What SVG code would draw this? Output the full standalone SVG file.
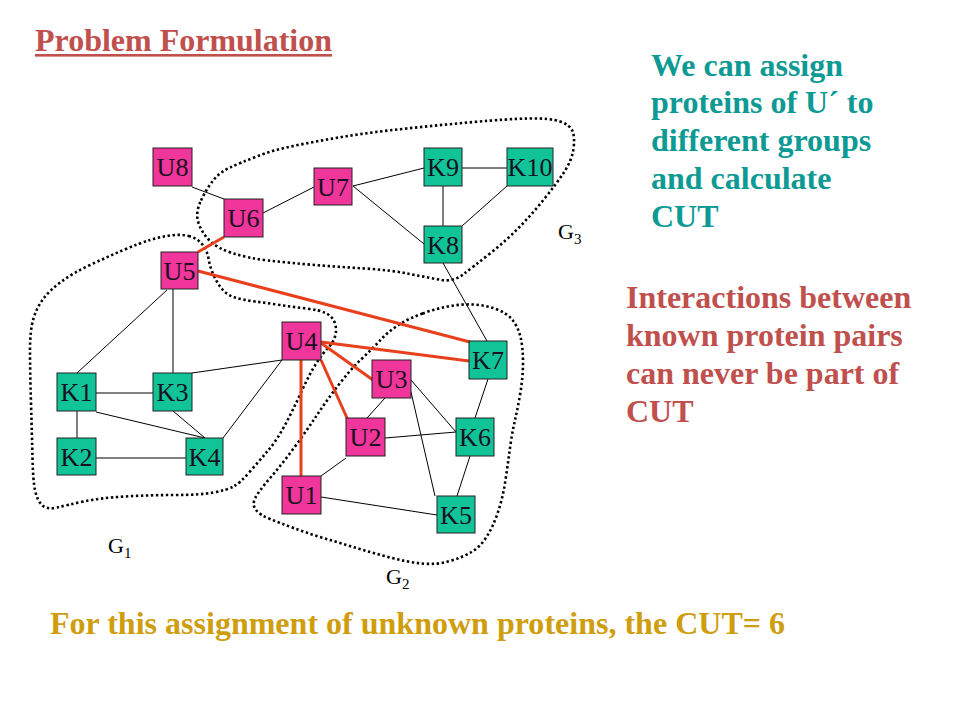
<svg xmlns="http://www.w3.org/2000/svg" width="960" height="720" viewBox="0 0 960 720">
<style>
.u{fill:#f0359b;stroke:#222;stroke-width:1}
.k{fill:#10c498;stroke:#222;stroke-width:1}
.lbl{font-family:"Liberation Serif","Times New Roman",serif;font-size:26px;fill:#1a1020;text-anchor:middle}
.e{stroke:#000;stroke-width:1;fill:none}
.r{stroke:#e8401c;stroke-width:3;fill:none}
.grp{fill:none;stroke:#000;stroke-width:2.6;stroke-dasharray:2.4 2.6}
.g{font-family:"Liberation Serif","Times New Roman",serif;font-size:22px;fill:#000}
.gs{font-size:15px}
.t{font-family:"Liberation Serif","Times New Roman",serif;font-weight:bold;font-size:32px}
</style>
<rect width="960" height="720" fill="#fff"/>

<g id="groups">
<path class="grp" d="M 201,200.5 Q 207,188 213.5,180 Q 220,172 230,167.5 Q 240,163 256.5,156.5 Q 273,150 298,145 Q 323,140 348,136 Q 373,132 406.5,128.5 Q 440,125 473.5,122 Q 507,119 528.5,118.5 Q 550,118 560,121.5 Q 570,125 572.5,131 Q 575,137 573.5,148.5 Q 572,160 564.5,171.5 Q 557,183 545,198 Q 533,213 520,226.5 Q 507,240 490,253.5 Q 473,267 463,274.5 Q 453,282 441.5,280 Q 430,278 410,274 Q 390,270 365,268.5 Q 340,267 315,265 Q 290,263 268.5,260.5 Q 247,258 232,253 Q 217,248 209.5,240.5 Q 202,233 198.5,223 Q 195,213 201,200.5 Z"/>
<path class="grp" d="M 188.5,236 Q 197,238 202,244 Q 207,250 208.5,258.5 Q 210,267 213.5,275 Q 217,283 222,289 Q 227,295 235,297.5 Q 243,300 255,301.5 Q 267,303 280,305 Q 293,307 306.5,308.5 Q 320,310 326.5,313.5 Q 333,317 335,323.5 Q 337,330 335,336.5 Q 333,343 328,348 Q 323,353 316.5,363 Q 310,373 301.5,391.5 Q 293,410 285,425 Q 277,440 268.5,450 Q 260,460 250,471.5 Q 240,483 233.5,486.5 Q 227,490 213.5,492.5 Q 200,495 175,495 Q 150,495 125,496.5 Q 100,498 83.5,501.5 Q 67,505 57,507.5 Q 47,510 42,505 Q 37,500 35,490 Q 33,480 32.5,458.5 Q 32,437 31,403.5 Q 30,370 30,350 Q 30,330 33.5,318.5 Q 37,307 43.5,298.5 Q 50,290 61.5,281.5 Q 73,273 90,265 Q 107,257 123.5,250 Q 140,243 150,240 Q 160,237 170,235.5 Q 180,234 188.5,236 Z"/>
<path class="grp" d="M 422.5,313.5 Q 435,309 447.5,306.5 Q 460,304 472.5,304.5 Q 485,305 496,309 Q 507,313 512.5,320 Q 518,327 520.5,337 Q 523,347 523,362 Q 523,377 520.5,392 Q 518,407 515,420 Q 512,433 510,448 Q 508,463 505.5,480 Q 503,497 498,512 Q 493,527 486.5,537 Q 480,547 471.5,552 Q 463,557 450,561 Q 437,565 422,563.5 Q 407,562 390,557.5 Q 373,553 356.5,548 Q 340,543 323.5,538 Q 307,533 293.5,528 Q 280,523 270,519 Q 260,515 256,510 Q 252,505 255,498.5 Q 258,492 270.5,477.5 Q 283,463 295,446.5 Q 307,430 317,415 Q 327,400 338.5,385 Q 350,370 361.5,359 Q 373,348 381.5,339 Q 390,330 400,324 Q 410,318 422.5,313.5 Z"/>
<text class="g" x="108" y="553">G<tspan class="gs" dy="5">1</tspan></text>
<text class="g" x="386" y="584">G<tspan class="gs" dy="5">2</tspan></text>
<text class="g" x="558" y="239">G<tspan class="gs" dy="5">3</tspan></text>
</g>

<g id="connectors">
<line class="e" x1="192" y1="187" x2="224" y2="199"/>
<line class="e" x1="263" y1="213" x2="314" y2="187"/>
<line class="e" x1="353" y1="186" x2="424" y2="168"/>
<line class="e" x1="353" y1="186" x2="424" y2="244"/>
<line class="e" x1="462" y1="168" x2="507" y2="168"/>
<line class="e" x1="443" y1="186" x2="443" y2="226"/>
<line class="e" x1="507" y1="186" x2="462" y2="226"/>
<line class="e" x1="443" y1="263" x2="487" y2="341"/>
<line class="e" x1="167" y1="290" x2="77" y2="373"/>
<line class="e" x1="173" y1="289" x2="173" y2="373"/>
<line class="e" x1="96" y1="393" x2="153" y2="393"/>
<line class="e" x1="77" y1="411" x2="77" y2="438"/>
<line class="e" x1="96" y1="412" x2="205" y2="438"/>
<line class="e" x1="173" y1="411" x2="205" y2="438"/>
<line class="e" x1="96" y1="458" x2="186" y2="458"/>
<line class="e" x1="192" y1="373" x2="282" y2="360"/>
<line class="e" x1="223" y1="438" x2="282" y2="360"/>
<line class="e" x1="321" y1="476" x2="346" y2="458"/>
<line class="e" x1="321" y1="497" x2="437" y2="515"/>
<line class="e" x1="367" y1="418" x2="385" y2="398"/>
<line class="e" x1="385" y1="438" x2="456" y2="432"/>
<line class="e" x1="411" y1="380" x2="456" y2="432"/>
<line class="e" x1="411" y1="392" x2="435" y2="496"/>
<line class="e" x1="488" y1="379" x2="475" y2="418"/>
<line class="e" x1="470" y1="456" x2="457" y2="496"/>
<line class="r" x1="224" y1="237" x2="198" y2="252"/>
<line class="r" x1="198" y1="271" x2="470" y2="342"/>
<line class="r" x1="321" y1="342" x2="469" y2="361"/>
<line class="r" x1="321" y1="343" x2="373" y2="380"/>
<line class="r" x1="321" y1="360" x2="347" y2="418"/>
<line class="r" x1="301" y1="360" x2="301" y2="476"/>
</g>

<g id="U8"><rect class="u" x="153" y="148" width="39" height="38"/><text class="lbl" x="172.5" y="176">U8</text></g>
<g id="U6"><rect class="u" x="224" y="199" width="39" height="38"/><text class="lbl" x="243.5" y="227">U6</text></g>
<g id="U7"><rect class="u" x="314" y="168" width="38" height="37"/><text class="lbl" x="333" y="196">U7</text></g>
<g id="K9"><rect class="k" x="424" y="148" width="38" height="38"/><text class="lbl" x="443" y="176">K9</text></g>
<g id="K10"><rect class="k" x="507" y="148" width="46" height="38"/><text class="lbl" x="530" y="176">K10</text></g>
<g id="K8"><rect class="k" x="424" y="226" width="38" height="37"/><text class="lbl" x="443" y="254">K8</text></g>
<g id="U5"><rect class="u" x="161" y="252" width="37" height="37"/><text class="lbl" x="179.5" y="280">U5</text></g>
<g id="K1"><rect class="k" x="57" y="373" width="39" height="38"/><text class="lbl" x="76.5" y="401">K1</text></g>
<g id="K3"><rect class="k" x="153" y="373" width="39" height="38"/><text class="lbl" x="172.5" y="401">K3</text></g>
<g id="K2"><rect class="k" x="57" y="438" width="39" height="37"/><text class="lbl" x="76.5" y="466">K2</text></g>
<g id="K4"><rect class="k" x="186" y="438" width="37" height="37"/><text class="lbl" x="204.5" y="466">K4</text></g>
<g id="U4"><rect class="u" x="282" y="322" width="39" height="38"/><text class="lbl" x="301.5" y="350">U4</text></g>
<g id="U1"><rect class="u" x="282" y="476" width="39" height="38"/><text class="lbl" x="301.5" y="504">U1</text></g>
<g id="U3"><rect class="u" x="372" y="360" width="39" height="38"/><text class="lbl" x="391.5" y="388">U3</text></g>
<g id="U2"><rect class="u" x="346" y="418" width="39" height="38"/><text class="lbl" x="365.5" y="446">U2</text></g>
<g id="K7"><rect class="k" x="469" y="341" width="38" height="38"/><text class="lbl" x="488" y="369">K7</text></g>
<g id="K6"><rect class="k" x="456" y="418" width="38" height="38"/><text class="lbl" x="475" y="446">K6</text></g>
<g id="K5"><rect class="k" x="437" y="496" width="38" height="37"/><text class="lbl" x="456" y="524">K5</text></g>

<g id="title">
<text class="t" x="35" y="51" fill="#c0504d" textLength="297" lengthAdjust="spacingAndGlyphs">Problem Formulation</text>
<rect x="35" y="54" width="297" height="2.6" fill="#c0504d"/>
</g>
<g id="note1" class="t" fill="#0e9a94">
<text x="651" y="76">We can assign</text>
<text x="651" y="113">proteins of U´ to</text>
<text x="651" y="151">different groups</text>
<text x="651" y="189">and calculate</text>
<text x="651" y="227">CUT</text>
</g>
<g id="note2" class="t" fill="#c0504d">
<text x="626" y="308">Interactions between</text>
<text x="626" y="346">known protein pairs</text>
<text x="626" y="384">can never be part of</text>
<text x="626" y="422">CUT</text>
</g>
<g id="footer">
<text class="t" x="50" y="634" fill="#cf9e0f" textLength="735" lengthAdjust="spacingAndGlyphs">For this assignment of unknown proteins, the CUT= 6</text>
</g>
</svg>
